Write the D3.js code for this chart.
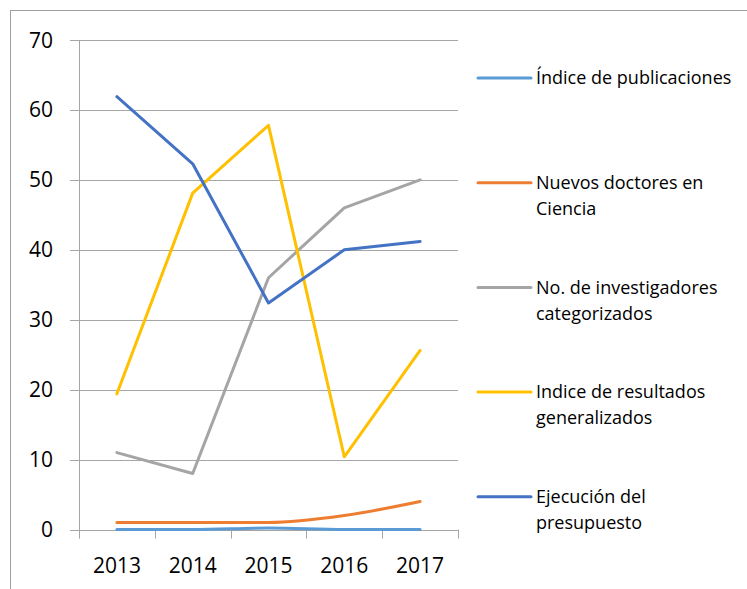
<!DOCTYPE html>
<html>
<head>
<meta charset="utf-8">
<script src="https://cdn.jsdelivr.net/npm/d3@7"></script>
<style>
  body { margin: 0; background: #fff; }
  text { font-family: "Open Sans", "Noto Sans", sans-serif; fill: #000; }
</style>
</head>
<body>
<div id="chart"></div>
<script>
// Data
var years = ["2013", "2014", "2015", "2016", "2017"];
var yTicks = [0, 10, 20, 30, 40, 50, 60, 70];

var publicaciones = [0, 0, 0.2, 0, 0];
var doctores = [1, 1, 1, 2, 4];
var investigadores = [11, 8, 36, 46, 50];
var resultados = [19.4, 48.1, 57.8, 10.4, 25.6];
var presupuesto = [61.9, 52.3, 32.4, 40, 41.2];

var seriesNames = [
  ["Índice de publicaciones"],
  ["Nuevos doctores en", "Ciencia"],
  ["No. de investigadores", "categorizados"],
  ["Indice de resultados", "generalizados"],
  ["Ejecución del", "presupuesto"]
];
var seriesValues = [publicaciones, doctores, investigadores, resultados, presupuesto];
var seriesColors = ["#5B9BD5", "#ED7D31", "#A5A5A5", "#FFC000", "#4472C4"];
var smoothed = [true, true, false, false, false];

var svgWidth = 747;
var svgHeight = 589;

var svg = d3.select("#chart")
  .append("svg")
  .attr("width", svgWidth)
  .attr("height", svgHeight);

// outer frame (only left and top edges visible)
svg.append("rect")
  .attr("x", 10.5)
  .attr("y", 10.5)
  .attr("width", 760)
  .attr("height", 600)
  .attr("fill", "none")
  .attr("stroke", "#A0A0A0")
  .attr("stroke-width", 1);

var plot = { left: 79, right: 458, top: 40, bottom: 529.5 };

var x = d3.scaleBand()
  .domain(years)
  .range([plot.left, plot.right]);

var y = d3.scaleLinear()
  .domain([0, 70])
  .range([plot.bottom, plot.top]);

// gridlines
svg.append("g")
  .selectAll("line")
  .data(yTicks)
  .enter()
  .append("line")
  .attr("x1", plot.left - 9)
  .attr("x2", plot.right)
  .attr("y1", d => Math.round(y(d)) + 0.5)
  .attr("y2", d => Math.round(y(d)) + 0.5)
  .attr("stroke", "#A6A6A6")
  .attr("stroke-width", 1);

// vertical axis line
svg.append("line")
  .attr("x1", plot.left + 0.5)
  .attr("x2", plot.left + 0.5)
  .attr("y1", plot.top)
  .attr("y2", plot.bottom + 9)
  .attr("stroke", "#A6A6A6");

// category tick marks
var boundaries = years.map(d => x(d)).concat([plot.right]);
svg.append("g")
  .selectAll("line")
  .data(boundaries)
  .enter()
  .append("line")
  .attr("x1", d => Math.round(d) + 0.5)
  .attr("x2", d => Math.round(d) + 0.5)
  .attr("y1", plot.bottom)
  .attr("y2", plot.bottom + 9)
  .attr("stroke", "#A6A6A6");

// y labels
svg.append("g")
  .selectAll("text")
  .data(yTicks)
  .enter()
  .append("text")
  .attr("x", 53)
  .attr("y", d => y(d))
  .attr("dy", "0.36em")
  .attr("text-anchor", "end")
  .style("font-size", "21px")
  .text(d => d);

// x labels
svg.append("g")
  .selectAll("text")
  .data(years)
  .enter()
  .append("text")
  .attr("x", d => x(d) + x.bandwidth() / 2)
  .attr("y", 573)
  .attr("text-anchor", "middle")
  .style("font-size", "21px")
  .text(d => d);

// lines
seriesValues.forEach(function(vals, i) {
  var line = d3.line()
    .x((d, j) => x(years[j]) + x.bandwidth() / 2)
    .y(d => y(d))
    .curve(smoothed[i] ? d3.curveMonotoneX : d3.curveLinear);

  svg.append("path")
    .datum(vals)
    .attr("d", line)
    .attr("fill", "none")
    .attr("stroke", seriesColors[i])
    .attr("stroke-width", 3)
    .attr("stroke-linecap", "round")
    .attr("stroke-linejoin", "round");
});

// legend
var legend = svg.append("g");
seriesNames.forEach(function(lines, i) {
  var ly = 78 + i * 104.7;
  legend.append("line")
    .attr("x1", 478)
    .attr("x2", 531)
    .attr("y1", ly)
    .attr("y2", ly)
    .attr("stroke", seriesColors[i])
    .attr("stroke-width", 3)
    .attr("stroke-linecap", "round");

  lines.forEach(function(t, k) {
    legend.append("text")
      .attr("x", 536)
      .attr("y", ly + k * 26)
      .attr("dy", "0.35em")
      .style("font-size", "18px")
      .text(t);
  });
});
</script>
</body>
</html>
